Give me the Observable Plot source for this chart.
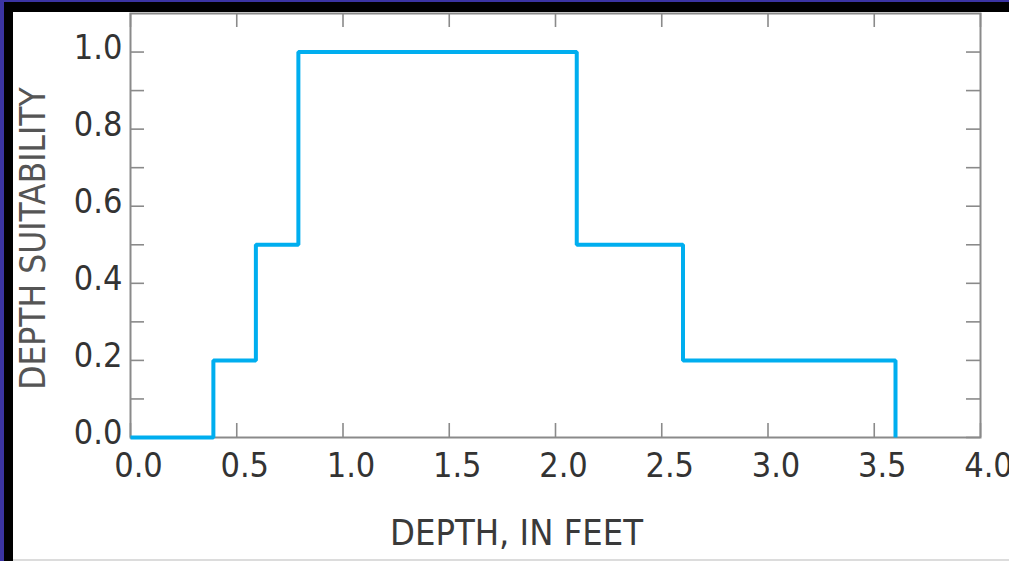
<!DOCTYPE html>
<html>
<head>
<meta charset="utf-8">
<script src="https://cdn.jsdelivr.net/npm/d3@7"></script>
<script src="https://cdn.jsdelivr.net/npm/@observablehq/plot@0.6"></script>
<style>
  html, body { margin: 0; padding: 0; }
  body { width: 1009px; height: 561px; background: #3b34a2; position: relative; overflow: hidden; }
  #black { position: absolute; left: 4px; top: 2px; width: 1005px; height: 559px; background: #000; }
  #white { position: absolute; left: 13px; top: 12px; width: 996px; height: 547px; background: #fff; border-bottom: 2px solid #dcdcdc; }
  #chart { position: absolute; left: 0; top: 0; }
</style>
</head>
<body>
<div id="black"></div>
<div id="white"></div>
<div id="chart"></div>
<script>
// Data: step breakpoints (depth, ft) and suitability after each breakpoint
const depth = [0, 0.39, 0.59, 0.79, 2.1, 2.6, 3.6];
const suitability = [0, 0.2, 0.5, 1.0, 0.5, 0.2, 0];
const xTicks = [0, 0.5, 1, 1.5, 2, 2.5, 3, 3.5, 4];
const yTicks = [0, 0.1, 0.2, 0.3, 0.4, 0.5, 0.6, 0.7, 0.8, 0.9, 1.0];
const yLabels = [0, 0.2, 0.4, 0.6, 0.8, 1.0];
const xTitle = "DEPTH, IN FEET";
const yTitle = "DEPTH SUITABILITY";

const data = depth.map((d, i) => ({depth: d, s: suitability[i]}));

const W = 1009, H = 561;
const mL = 130, mR = 29, mT = 13, mB = 124;
const innerW = W - mL - mR, innerH = H - mT - mB;
const tickLen = 14;
const font = "'DejaVu Sans Condensed', 'Liberation Sans Narrow', sans-serif";
const fmt = d3.format(".1f");
const grey = "#8a8a8a";

const plot = Plot.plot({
  width: W, height: H,
  marginLeft: mL, marginRight: mR, marginTop: mT, marginBottom: mB,
  style: {background: "transparent", fontFamily: font},
  x: {domain: [0, 4], axis: null},
  y: {domain: [0, 1.1], axis: null},
  marks: [
    // inward ticks on all four sides
    Plot.tickX(xTicks, {x: d => d, insetTop: innerH - tickLen, stroke: grey, strokeWidth: 1.6}),
    Plot.tickX(xTicks, {x: d => d, insetBottom: innerH - tickLen, stroke: grey, strokeWidth: 1.6}),
    Plot.tickY(yTicks, {y: d => d, insetRight: innerW - tickLen, stroke: grey, strokeWidth: 1.6}),
    Plot.tickY(yTicks, {y: d => d, insetLeft: innerW - tickLen, stroke: grey, strokeWidth: 1.6}),
    Plot.frame({stroke: grey, strokeWidth: 2}),
    Plot.line(data, {x: "depth", y: "s", curve: "step-after", stroke: "#00aeef", strokeWidth: 4, strokeLinejoin: "miter", strokeLinecap: "butt"}),
    Plot.axisX(xTicks, {anchor: "bottom", label: null, tickSize: 0, tickPadding: 15, dx: 8, tickFormat: fmt, fontSize: 34, fill: "#333"}),
    Plot.axisY(yLabels, {anchor: "left", label: null, tickSize: 0, tickPadding: 8, dy: -4, tickFormat: fmt, fontSize: 34, fill: "#333"}),
    Plot.text([xTitle], {frameAnchor: "bottom", text: d => d, textAnchor: "middle", dx: -39, dy: 82, lineAnchor: "top", fontSize: 36, fill: "#3a3a3a"}),
    Plot.text([yTitle], {frameAnchor: "left", text: d => d, textAnchor: "middle", rotate: -90, dx: -97, dy: 13, fontSize: 35, fill: "#555"})
  ]
});
document.getElementById("chart").appendChild(plot);
</script>
</body>
</html>
